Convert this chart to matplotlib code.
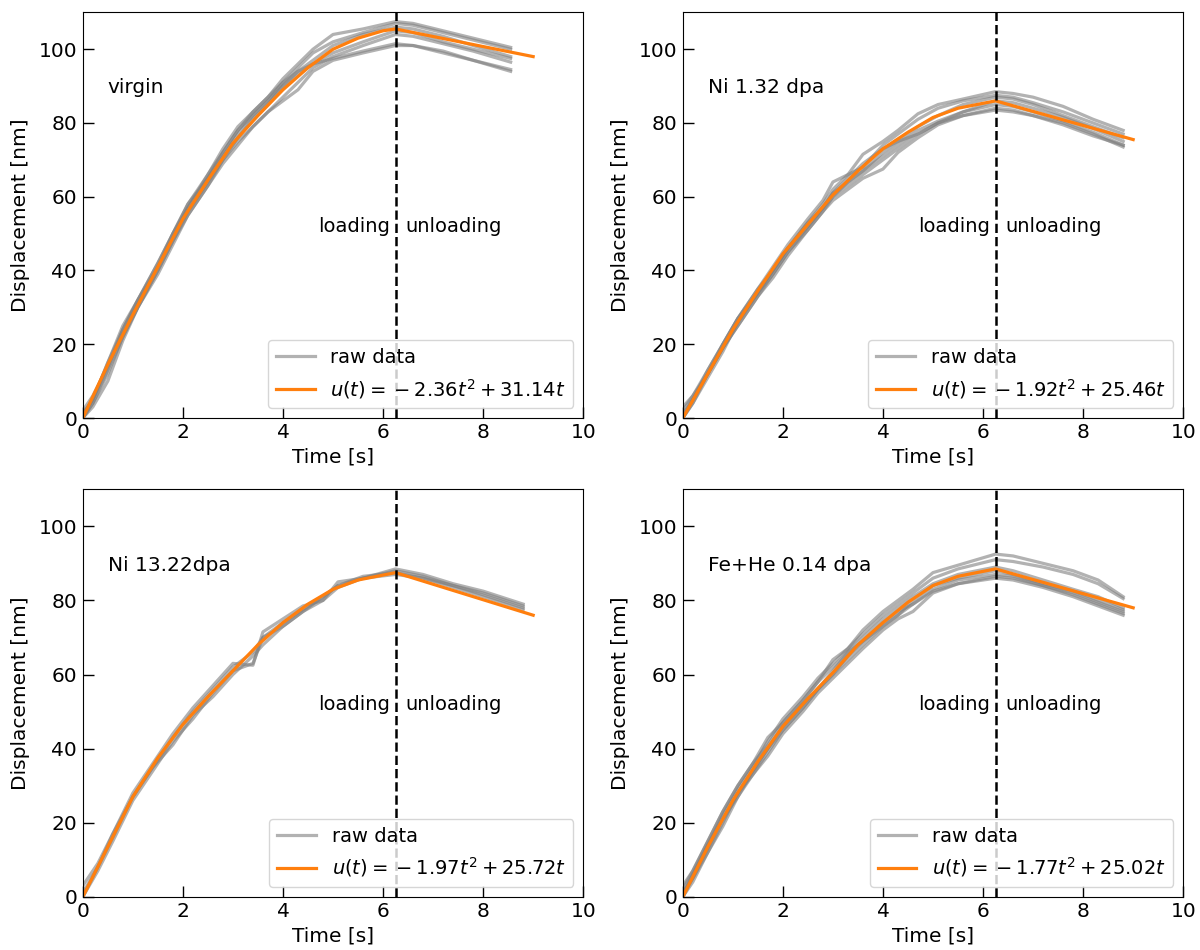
import matplotlib
matplotlib.use("Agg")
from matplotlib import pyplot as plt

# ---- data ----
labels = ["virgin", "Ni 1.32 dpa", "Ni 13.22dpa", "Fe+He 0.14 dpa"]
fit_labels = [r"$u(t) = \:-\:2.36t^2 + 31.14t$",
              r"$u(t) = \:-\:1.92t^2 + 25.46t$",
              r"$u(t) = \:-\:1.97t^2 + 25.72t$",
              r"$u(t) = \:-\:1.77t^2 + 25.02t$"]
t_peak = 6.25

# virgin
raw_t_1 = [0, 0.2, 0.5, 0.8, 1.1, 1.5, 1.8, 2.1, 2.5, 2.8, 3.1, 3.4, 3.7, 4.0, 4.3, 4.6, 5.0, 5.6, 6.25, 6.6, 7.2, 7.8, 8.55]
raw_u_1 = [
    [0, 5, 15, 24, 32, 42, 50, 58, 66, 73, 79, 83, 87, 92, 96, 100, 104, 105.5, 107.5, 107, 105, 103, 100.5],
    [2, 6, 14, 23, 31, 41, 49, 57, 66, 72, 78, 82, 86, 91, 95, 99, 102, 104.5, 107, 106.5, 104.5, 102.5, 100],
    [0, 4, 13, 22, 30, 40, 48, 56, 64, 70, 76, 81, 85, 90, 94, 97, 101, 104, 106, 105.5, 103.5, 101, 98],
    [1, 5, 14, 24, 32, 41, 50, 57, 65, 71, 77, 82, 86, 90, 93, 96, 99, 102, 105, 104.5, 102, 100, 97.5],
    [0, 3, 10, 21, 30, 40, 48, 55, 63, 70, 75, 79, 83, 87, 91, 95, 98, 101, 104, 103.5, 101.5, 99.5, 96.5],
    [0, 4, 12, 22, 30, 39, 47, 55, 63, 69, 74, 79, 83, 86, 89, 94, 97, 99, 101, 101, 99, 97, 94],
    [1, 5, 15, 25, 32, 42, 50, 58, 65, 72, 78, 83, 87, 91, 94, 96, 97.5, 99.5, 101.5, 101, 99.5, 97, 94.5],
]
fit_t_1 = [0, 0.5, 1, 1.5, 2, 2.5, 3, 3.5, 4, 4.5, 5, 5.5, 6, 6.25, 9]
fit_u_1 = [0, 14.5, 28, 41, 54, 64.5, 74.5, 82, 89, 95, 100, 103, 105, 105.5, 98]

# Ni 1.32 dpa
raw_t_2 = [0, 0.2, 0.5, 0.8, 1.1, 1.5, 1.8, 2.1, 2.5, 2.8, 3.0, 3.3, 3.6, 4.0, 4.3, 4.7, 5.1, 5.6, 6.25, 6.6, 7.0, 7.6, 8.2, 8.8]
raw_u_2 = [
    [0, 5, 12, 20, 27, 35, 41, 47, 54, 59, 64, 66, 71.5, 75, 78, 82.5, 85, 86.5, 88.5, 88, 87, 84.5, 81, 78],
    [2, 6, 13, 20, 27, 34, 40, 46, 53, 58, 62, 66, 68, 74, 77, 81, 84, 86, 87.5, 87, 85.5, 83, 80, 77],
    [0, 4, 11, 18, 26, 34, 39, 45, 52, 57, 61, 64, 67, 72, 75, 79, 82, 85, 87, 86.5, 85, 82, 79, 76],
    [1, 5, 12, 19, 25, 33, 39, 45, 51, 56, 60, 64, 67, 71, 74, 78, 80.5, 83, 86, 85.5, 84, 81.5, 78.5, 75],
    [0, 4, 12, 19, 26, 34, 40, 46, 52, 57, 60, 63, 66, 70, 73, 77, 80, 83, 85, 84.5, 83, 80.5, 77.5, 74],
    [0, 5, 13, 20, 27, 35, 40, 46, 53, 57, 61, 65, 69, 73, 75, 77, 80, 82, 84, 83.5, 82, 80, 77, 73.5],
    [3, 6, 12, 19, 25, 33, 38, 44, 51, 56, 59, 62, 65, 67.5, 72, 76, 79.5, 82, 83.5, 83, 82, 79.5, 76.5, 74],
]
fit_t_2 = [0, 0.5, 1, 1.5, 2, 2.5, 3, 3.5, 4, 4.5, 5, 5.5, 6.25, 9]
fit_u_2 = [0, 12, 24, 34.5, 44.5, 52.5, 60.5, 67, 73, 77.5, 81.5, 84, 86, 75.5]

# Ni 13.22 dpa
raw_t_3 = [0, 0.3, 0.6, 1.0, 1.4, 1.8, 2.2, 2.6, 3.0, 3.4, 3.6, 4.0, 4.4, 4.8, 5.1, 5.6, 6.25, 6.8, 7.4, 8.0, 8.8]
raw_u_3 = [
    [0, 8, 17, 28, 36, 44, 51, 57, 63, 62.5, 71.5, 75, 78.5, 80, 85, 86, 88.5, 87, 84.5, 82.5, 79],
    [3, 9, 17, 27, 35, 41, 49, 54, 60, 65, 68, 73, 77, 80, 83.5, 86, 88, 86.5, 84, 82, 78.5],
    [0, 7, 15, 26, 34, 42, 48, 55, 61, 63, 70, 73, 77, 81, 84, 86.5, 87.5, 86, 84, 81.5, 78],
    [1, 8, 16, 27, 35, 43, 50, 56, 62, 66, 70, 74, 77.5, 81, 84, 86, 87, 86, 83.5, 81, 77.5],
]
fit_t_3 = [0, 0.5, 1, 1.5, 2, 2.5, 3, 3.5, 4, 4.5, 5, 5.5, 6.25, 9]
fit_u_3 = [0, 13.5, 27, 37.5, 46.5, 54, 61, 68, 74, 79, 83, 85.5, 87.5, 76]

# Fe+He 0.14 dpa
raw_t_4 = [0, 0.2, 0.5, 0.8, 1.1, 1.4, 1.7, 2.0, 2.4, 2.7, 3.0, 3.3, 3.6, 4.0, 4.3, 4.6, 5.0, 5.5, 6.25, 6.6, 7.2, 7.8, 8.3, 8.8]
raw_u_4 = [
    [2, 7, 15, 23, 30, 36, 43, 47, 53, 58, 64, 67, 72, 77, 80, 83, 87.5, 89.5, 92.5, 92, 90, 88, 85.5, 81],
    [0, 6, 14, 22, 29, 35, 42, 48, 54, 59, 63, 67, 71, 76, 79, 82, 86, 88.5, 91, 90.5, 89, 87, 84.5, 80.5],
    [1, 5, 13, 21, 28, 34, 40, 46, 52, 56, 61, 66, 70, 75, 78, 81, 84.5, 87, 89, 88, 85.5, 83, 81, 78],
    [0, 4, 12, 20, 28, 33, 39, 45, 51, 56, 60, 64, 68, 73, 76, 80, 84, 86, 88, 87, 84.5, 82.5, 80, 77.5],
    [3, 7, 15, 23, 30, 36, 41, 47, 53, 58, 62, 66, 69, 74, 77, 79, 83, 85.5, 87, 86.5, 84, 82, 79.5, 77],
    [0, 5, 12, 19, 27, 33, 38, 44, 50, 55, 59, 63, 67, 72, 75, 77, 82, 84.5, 86.5, 86, 84, 81.5, 79, 76.5],
    [1, 6, 14, 21, 27, 34, 40, 45, 51, 56, 60, 65, 69, 73, 76, 79, 82.5, 84.5, 86, 85.5, 83.5, 81, 78.5, 76],
]
fit_t_4 = [0, 0.5, 1, 1.5, 2, 2.5, 3, 3.5, 4, 4.5, 5, 5.5, 6.25, 9]
fit_u_4 = [0, 13.5, 26, 36.5, 46, 53.5, 60.5, 68, 74, 79.5, 84, 86.5, 88.5, 78]

panels = [
    (raw_t_1, raw_u_1, fit_t_1, fit_u_1),
    (raw_t_2, raw_u_2, fit_t_2, fit_u_2),
    (raw_t_3, raw_u_3, fit_t_3, fit_u_3),
    (raw_t_4, raw_u_4, fit_t_4, fit_u_4),
]

plt.rcParams['font.family'] = ['DejaVu Sans']
plt.rcParams['font.size'] = 14.5

fig = plt.figure(figsize=(12, 9.5), dpi=100)
# axes boxes in figure fractions
boxes = [
    [0.069, 0.560, 0.417, 0.427],
    [0.569, 0.560, 0.417, 0.427],
    [0.069, 0.056, 0.417, 0.429],
    [0.569, 0.056, 0.417, 0.429],
]

for i, (rt, ru, ft, fu) in enumerate(panels):
    ax = fig.add_axes(boxes[i])
    for k, line in enumerate(ru):
        ax.plot(rt, line, color='gray', alpha=0.6, lw=2.3,
                label='raw data' if k == 0 else None)
    ax.plot(ft, fu, color='#ff7f0e', lw=2.3, label=fit_labels[i])
    ax.axvline(t_peak, color='black', ls='--', lw=1.8)
    ax.text(0.5, 89.5, labels[i], ha='left', va='center')
    ax.text(t_peak - 0.12, 52, 'loading', ha='right', va='center', fontsize=14)
    ax.text(t_peak + 0.2, 52, 'unloading', ha='left', va='center', fontsize=14)

    ax.set_xlim(0, 10)
    ax.set_ylim(0, 110)
    ax.set_xticks([0, 2, 4, 6, 8, 10])
    ax.set_yticks([0, 20, 40, 60, 80, 100])
    ax.tick_params(direction='in', length=8, width=1)
    ax.tick_params(axis='x', pad=3.5)
    ax.tick_params(axis='y', pad=4)
    ax.set_xlabel('Time [s]', labelpad=4)
    ax.set_ylabel('Displacement [nm]', labelpad=6)
    ax.legend(loc='lower right', fontsize=14)

fig.savefig('out.png')
